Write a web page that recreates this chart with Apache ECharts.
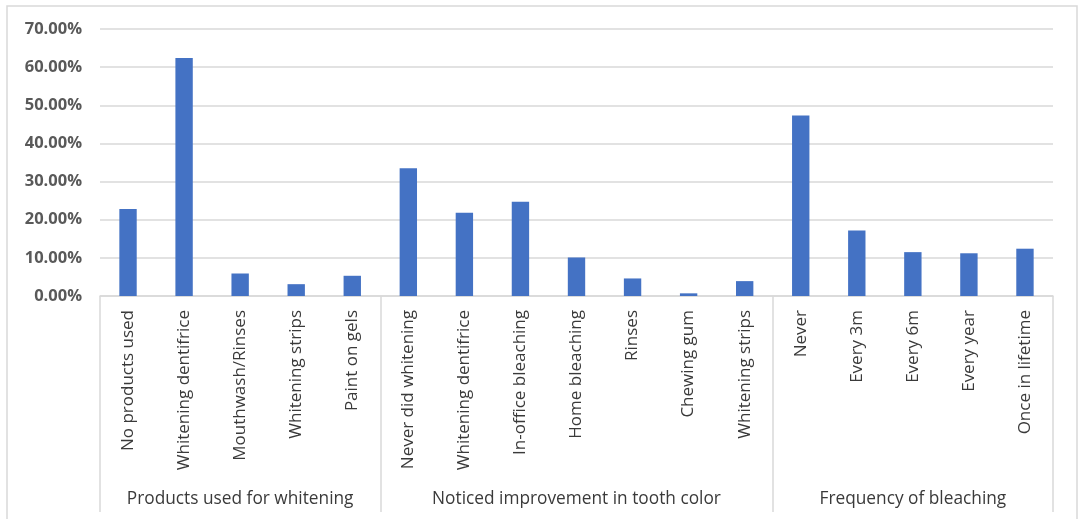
<!DOCTYPE html>
<html>
<head>
<meta charset="utf-8">
<script src="https://cdn.jsdelivr.net/npm/echarts@6/dist/echarts.min.js"></script>
<style>
  html, body { margin: 0; padding: 0; background: #fff; }
  #chart { width: 1080px; height: 519px; }
</style>
</head>
<body>
<div id="chart"></div>
<script>
// Survey answers, grouped by question
const groupNames = ['Products used for whitening', 'Noticed improvement in tooth color', 'Frequency of bleaching'];
const groupProducts = ['No products used', 'Whitening dentifrice', 'Mouthwash/Rinses', 'Whitening strips', 'Paint on gels'];
const groupImprovement = ['Never did whitening', 'Whitening dentifrice', 'In-office bleaching', 'Home bleaching', 'Rinses', 'Chewing gum', 'Whitening strips'];
const groupFrequency = ['Never', 'Every 3m', 'Every 6m', 'Every year', 'Once in lifetime'];

// Share of respondents (%)
const valuesProducts = [22.8, 62.4, 5.9, 3.1, 5.3];
const valuesImprovement = [33.5, 21.8, 24.7, 10.1, 4.6, 0.7, 3.9];
const valuesFrequency = [47.3, 17.2, 11.5, 11.2, 12.4];

const groups = [groupProducts, groupImprovement, groupFrequency];
const categories = [].concat(groupProducts, groupImprovement, groupFrequency);
const values = [].concat(valuesProducts, valuesImprovement, valuesFrequency);

// first index of each group, and the index sitting in the middle of each group
const groupStarts = [];
const groupCenters = {};
let pos = 0;
groups.forEach(function (g, gi) {
  groupStarts.push(pos);
  groupCenters[pos + Math.floor(g.length / 2)] = groupNames[gi];
  pos += g.length;
});

const font = '"Open Sans", "Noto Sans", sans-serif';
const lineGrey = '#d9d9d9';

const chart = echarts.init(document.getElementById('chart'));
chart.setOption({
  animation: false,
  backgroundColor: '#ffffff',
  graphic: [{
    type: 'rect',
    shape: { x: 7, y: 6, width: 1070, height: 530 },
    style: { fill: 'none', stroke: lineGrey, lineWidth: 1.5 },
    silent: true
  }],
  grid: { left: 100, right: 27, top: 29, bottom: 223, containLabel: false },
  xAxis: [{
    type: 'category',
    data: categories,
    axisLine: { show: true, lineStyle: { color: lineGrey, width: 1.5 } },
    axisTick: { show: false },
    axisLabel: {
      interval: 0,
      rotate: 90,
      margin: 14,
      color: '#3a3a3a',
      fontSize: 17,
      fontFamily: font
    }
  }, {
    type: 'category',
    data: categories,
    position: 'bottom',
    axisLine: { show: false },
    axisTick: {
      show: true,
      length: 216,
      interval: function (index) { return groupStarts.indexOf(index) >= 0; },
      lineStyle: { color: lineGrey, width: 1.5 }
    },
    axisLabel: {
      interval: function (index) { return groupCenters[index] !== undefined; },
      formatter: function (v, index) { return groupCenters[index] || ''; },
      margin: 195,
      color: '#3a3a3a',
      fontSize: 17.3,
      fontFamily: font
    }
  }],
  yAxis: {
    type: 'value',
    min: 0,
    max: 70,
    interval: 10,
    axisLine: { show: false },
    axisTick: { show: false },
    splitLine: { lineStyle: { color: lineGrey, width: 1.5 } },
    axisLabel: {
      margin: 18,
      color: '#595959',
      fontSize: 16.5,
      fontWeight: 'bold',
      fontFamily: font,
      formatter: function (v) { return v.toFixed(2) + '%'; }
    }
  },
  series: [{
    type: 'bar',
    data: values,
    xAxisIndex: 0,
    barWidth: '31%',
    itemStyle: { color: '#4472c4' }
  }]
});
</script>
</body>
</html>
